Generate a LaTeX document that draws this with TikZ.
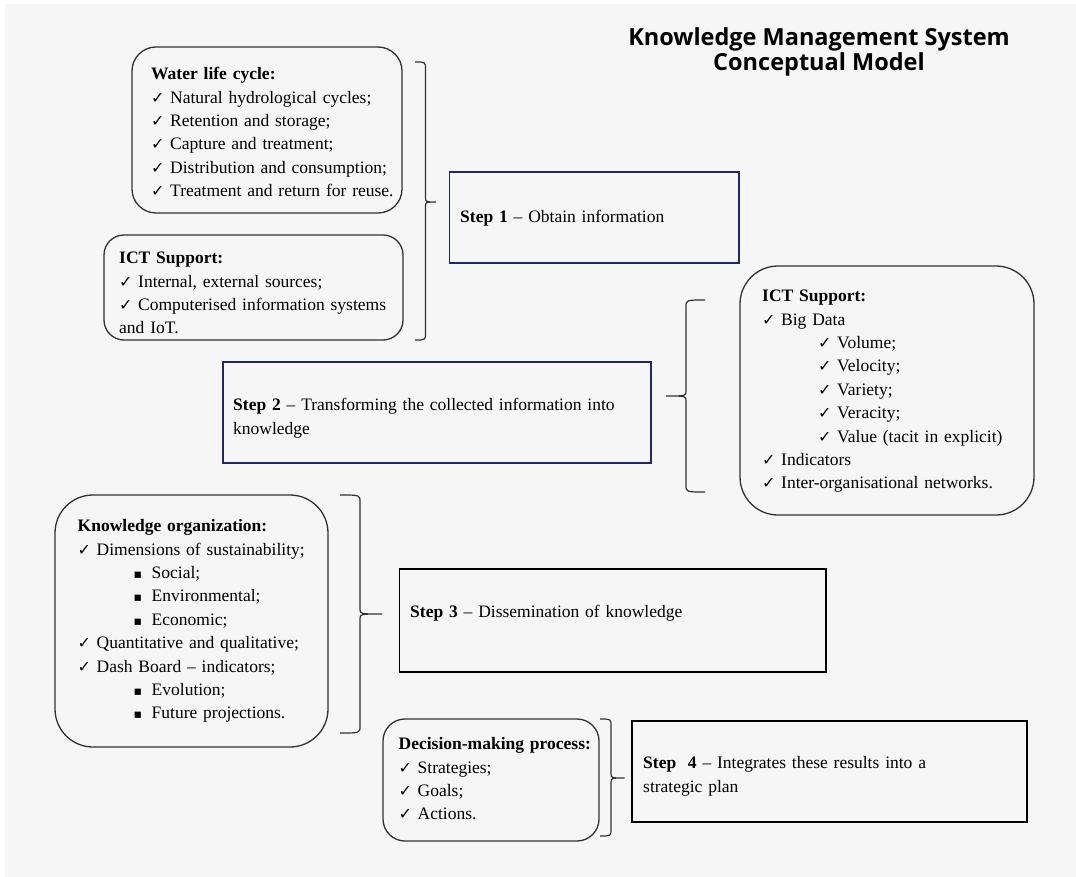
\documentclass[tikz,border=0pt]{standalone}
\usepackage{fontspec}
\setmainfont{Liberation Serif}
\newfontfamily\symfont{DejaVu Sans}
\newfontfamily\titlefont{Open Sans}
\definecolor{bggray}{RGB}{246,246,246}
\definecolor{navy}{RGB}{35,40,95}
\definecolor{edgegray}{RGB}{50,50,50}
\newcommand\ck{\makebox[19pt][l]{\symfont\fontsize{16}{16}\selectfont ✓}}
\newcommand\sqb{\makebox[18pt][l]{\symfont\fontsize{12.5}{12.5}\selectfont ▪}}
\newcommand\sub{\hspace*{56pt}}
\newcommand\bodyfont{\fontsize{17.5}{23.4}\selectfont\spaceskip=0.36em plus 0.3em minus 0.05em\relax}
\newcommand\bracepath[6]{%
  \draw[bracestyle] (#1,#4) .. controls (#2,#4) .. (#2,#4+7) -- (#2,#5-5)
    .. controls (#2,#5) .. (#3,#5) .. controls (#2,#5) .. (#2,#5+5)
    -- (#2,#6-7) .. controls (#2,#6) .. (#1,#6);}
\begin{document}
\begin{tikzpicture}[x=1pt,y=-1pt,
  rbox/.style={draw=edgegray, line width=1.3pt, fill=none, inner sep=0pt},
  stepnavy/.style={draw=navy, line width=1.4pt, inner sep=0pt},
  stepblack/.style={draw=black, line width=1.6pt, inner sep=0pt},
  txt/.style={inner sep=0pt, anchor=north west, align=left, text width=480pt,
    font=\bodyfont},
  title/.style={inner sep=0pt, anchor=base, font=\titlefont\bfseries\fontsize{23.5}{25}\selectfont},
  bracestyle/.style={draw=edgegray, line width=1.2pt}]
\useasboundingbox (0,0) rectangle (1076,877);
\fill[white] (0,0) rectangle (1076,877);
\fill[bggray] (5,4) rectangle (1076,877);

% title
\node[title] (t1) at (819,45.5) {Knowledge Management System};
\node[title] (t2) at (819,70.5) {Conceptual Model};

% boxes
\node[rbox, rounded corners=24pt, minimum width=270pt, minimum height=166pt] (water) at (267,130) {};
\node[rbox, rounded corners=20pt, minimum width=299pt, minimum height=105pt] (ict1) at (253.5,287.5) {};
\node[stepnavy, minimum width=289.5pt, minimum height=91pt] (step1) at (594.25,217.5) {};
\node[stepnavy, minimum width=428pt, minimum height=101pt] (step2) at (437,412.5) {};
\node[rbox, rounded corners=38pt, minimum width=294pt, minimum height=249pt] (ict2) at (887,390.5) {};
\node[rbox, rounded corners=38pt, minimum width=273pt, minimum height=252pt] (know) at (191.5,621) {};
\node[stepblack, minimum width=426.5pt, minimum height=103pt] (step3) at (612.75,620.5) {};
\node[rbox, rounded corners=22pt, minimum width=216pt, minimum height=122pt] (dec) at (491,780) {};
\node[stepblack, minimum width=395pt, minimum height=101pt] (step4) at (829.5,771.5) {};

% texts
\node[txt] (watertxt) at (151,63.1) {\strut\textbf{Water life cycle:}\\
\ck Natural hydrological cycles;\\
\ck Retention and storage;\\
\ck Capture and treatment;\\
\ck Distribution and consumption;\\
\ck Treatment and return for reuse.};

\node[txt] (ict1txt) at (119,247.1) {\strut\textbf{ICT Support:}\\
\ck Internal, external sources;\\
\makebox[270pt][s]{\ck Computerised information systems}\\
and IoT.};

\node[txt] (step1txt) at (460,206.1) {\strut\textbf{Step 1} -- Obtain information};

\node[txt] (step2txt) at (233,394.1) {\strut\textbf{Step 2} -- Transforming the collected information into\\
knowledge};

\node[txt] (ict2txt) at (762,285.1) {\strut\textbf{ICT Support:}\\
\ck Big Data\\
\sub\ck Volume;\\
\sub\ck Velocity;\\
\sub\ck Variety;\\
\sub\ck Veracity;\\
\sub\ck Value (tacit in explicit)\\
\ck Indicators\\
\ck Inter-organisational networks.};

\node[txt] (knowtxt) at (77.5,515.1) {\strut\textbf{Knowledge organization:}\\
\ck Dimensions of sustainability;\\
\sub\sqb Social;\\
\sub\sqb Environmental;\\
\sub\sqb Economic;\\
\ck Quantitative and qualitative;\\
\ck Dash Board -- indicators;\\
\sub\sqb Evolution;\\
\sub\sqb Future projections.};

\node[txt] (step3txt) at (410,601.1) {\strut\textbf{Step 3} -- Dissemination of knowledge};

\node[txt] (dectxt) at (398.5,733.1) {\strut\textbf{Decision-making process:}\\
\ck Strategies;\\
\ck Goals;\\
\ck Actions.};

\node[txt] (step4txt) at (643,752.1) {\strut\textbf{Step\ \ 4} -- Integrates these results into a\\
strategic plan};

% braces
\bracepath{415}{425.5}{436}{62}{202}{340}
\bracepath{705}{686}{666}{300}{396}{492}
\bracepath{340}{360}{382}{495}{614}{733}
\bracepath{600}{611}{624.5}{719}{778}{836}
\end{tikzpicture}
\end{document}
